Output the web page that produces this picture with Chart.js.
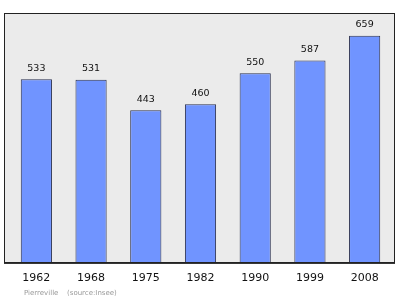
<!DOCTYPE html>
<html>
<head>
<meta charset="utf-8">
<script src="https://cdn.jsdelivr.net/npm/chart.js@4/dist/chart.umd.min.js"></script>
<style>
  html, body { margin: 0; padding: 0; background: #ffffff; }
  #wrap { width: 400px; height: 299px; }
</style>
</head>
<body>
<div id="wrap"><canvas id="c" width="400" height="299"></canvas></div>
<script>
const years = ['1962', '1968', '1975', '1982', '1990', '1999', '2008'];
const population = [533, 531, 443, 460, 550, 587, 659];
const commune = 'Pierreville';
const source = '(source:Insee)';

// Grey framed panel behind the bars
const panel = {
  id: 'panel',
  beforeDatasetsDraw(chart) {
    const { ctx, chartArea: a } = chart;
    ctx.save();
    ctx.fillStyle = '#ebebeb';
    ctx.fillRect(a.left - 5, a.top, a.right - a.left + 8, a.bottom - a.top);
    ctx.restore();
  },
  afterDatasetsDraw(chart) {
    const { ctx, chartArea: a } = chart;
    ctx.save();
    ctx.strokeStyle = '#222222';
    ctx.lineWidth = 1;
    ctx.strokeRect(a.left - 4.5, a.top + 0.5, a.right - a.left + 7, a.bottom - a.top);
    ctx.lineWidth = 1.5;
    ctx.beginPath();
    ctx.moveTo(a.left - 5, a.bottom);
    ctx.lineTo(a.right + 3, a.bottom);
    ctx.stroke();
    ctx.restore();
  }
};

// Value printed above each bar, plus the caption line underneath
const labels = {
  id: 'labels',
  afterDraw(chart) {
    const { ctx } = chart;
    const meta = chart.getDatasetMeta(0);
    ctx.save();
    ctx.fillStyle = '#111111';
    ctx.font = '9.5px "DejaVu Sans"';
    ctx.textAlign = 'center';
    ctx.textBaseline = 'middle';
    meta.data.forEach((bar, i) => {
      ctx.fillText(String(population[i]), bar.x, bar.y - 11);
    });
    ctx.fillStyle = '#999999';
    ctx.font = '7px "DejaVu Sans"';
    ctx.textAlign = 'left';
    ctx.fillText(commune, 24, 293);
    ctx.fillText(source, 67, 293);
    ctx.restore();
  }
};

new Chart(document.getElementById('c'), {
  type: 'bar',
  data: {
    labels: years,
    datasets: [{
      data: population,
      backgroundColor: '#7094ff',
      borderColor: '#2a3050',
      borderWidth: 1,
      borderSkipped: 'bottom',
      barPercentage: 0.57,
      categoryPercentage: 1
    }]
  },
  options: {
    responsive: false,
    animation: false,
    layout: { padding: { left: 9, right: 8, top: 13, bottom: 5 } },
    plugins: { legend: { display: false }, tooltip: { enabled: false } },
    scales: {
      x: {
        grid: { display: false, drawTicks: false },
        border: { display: false },
        ticks: { color: '#111111', font: { family: 'DejaVu Sans', size: 11 }, padding: 9 }
      },
      y: {
        display: false,
        min: 0,
        max: 725
      }
    }
  },
  plugins: [panel, labels]
});
</script>
</body>
</html>
